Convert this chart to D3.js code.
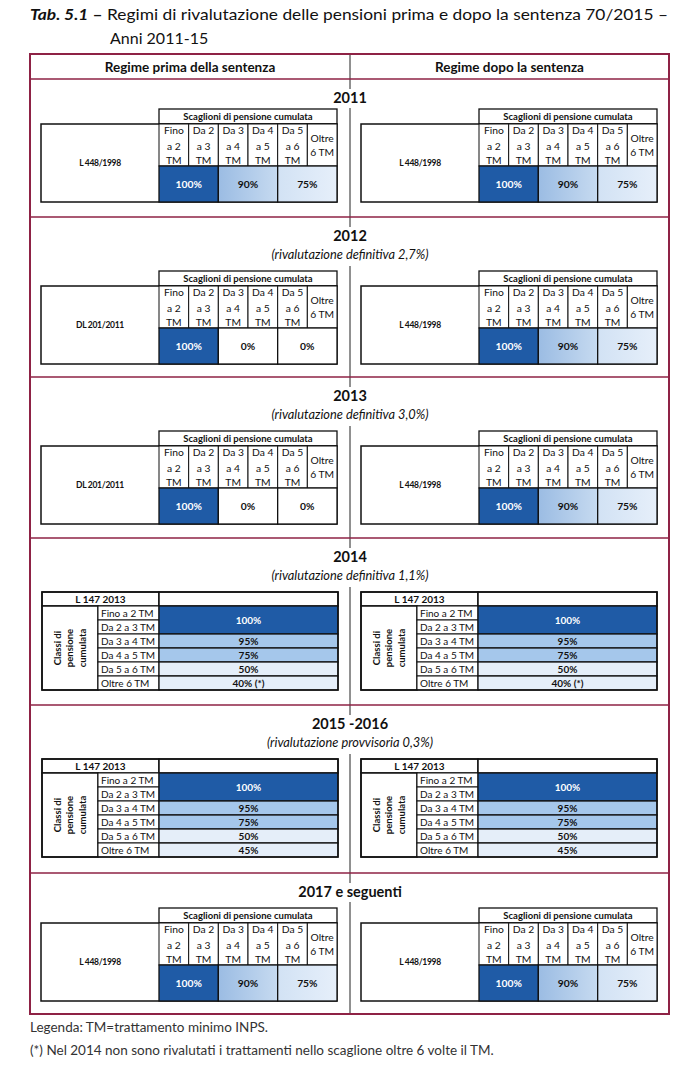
<!DOCTYPE html>
<html>
<head>
<meta charset="utf-8">
<script src="https://cdn.jsdelivr.net/npm/d3@7"></script>
<style>
body{margin:0;background:#fff}
svg{display:block}
text{font-family:Lato,"Open Sans",sans-serif;fill:#111}
</style>
</head>
<body>
<svg id="chart" width="700" height="1079"></svg>
<script>
// ---- dati ----
var sezioni = ["2011","2012","2013","2014","2015 -2016","2017 e seguenti"];
var sottotitoli = ["","(rivalutazione definitiva 2,7%)","(rivalutazione definitiva 3,0%)","(rivalutazione definitiva 1,1%)","(rivalutazione provvisoria 0,3%)",""];
var tipoTabella = ["scaglioni","scaglioni","scaglioni","classi","classi","scaglioni"];
var normaPrima = ["L 448/1998","DL 201/2011","DL 201/2011","L 147 2013","L 147 2013","L 448/1998"];
var normaDopo = ["L 448/1998","L 448/1998","L 448/1998","L 147 2013","L 147 2013","L 448/1998"];
var scaglioni = ["Fino a 2 TM","Da 2 a 3 TM","Da 3 a 4 TM","Da 4 a 5 TM","Da 5 a 6 TM","Oltre 6 TM"];
var intestazioni = [["Fino","a 2","TM"],["Da 2","a 3","TM"],["Da 3","a 4","TM"],["Da 4","a 5","TM"],["Da 5","a 6","TM"],["Oltre","6 TM"]];
var ratePrima = [[100,100,90,90,75,75],[100,100,0,0,0,0],[100,100,0,0,0,0],[100,100,95,75,50,40],[100,100,95,75,50,45],[100,100,90,90,75,75]];
var rateDopo  = [[100,100,90,90,75,75],[100,100,90,90,75,75],[100,100,90,90,75,75],[100,100,95,75,50,40],[100,100,95,75,50,45],[100,100,90,90,75,75]];
var asterisco = ["","","","(*)","",""]; // nota sullo scaglione oltre 6 TM
var colonne = ["Regime prima della sentenza","Regime dopo la sentenza"];
var legenda = ["Legenda: TM=trattamento minimo INPS.","(*) Nel 2014 non sono rivalutati i trattamenti nello scaglione oltre 6 volte il TM."];

// ---- impaginazione ----
var svg = d3.select("#chart"),
    fx0 = 30, fx1 = 669, fy0 = 54, fy1 = 1014, mid = 350, headBottom = 79,
    sezTop = [79,217,377,538,705,873],
    sezBottom = [217,377,538,705,873,1014],
    tabOffset = [30,54,54,54,54,35],
    maroon = "#8e2245",
    scuro = "#1f5ba6"

var defs = svg.append("defs")
function grad(id, c0, c1){
    var g = defs.append("linearGradient").attr("id", id)
    g.append("stop").attr("offset","0%").attr("stop-color",c0)
    g.append("stop").attr("offset","100%").attr("stop-color",c1)
}
grad("gMed","#9bbce3","#c6daf0")
grad("gLight","#d2e2f4","#e6effa")

function riempi(v, i, tipo){
    if (v == 0) return "#fff"
    var gr = Math.floor(i/2)
    if (tipo == "scaglioni") return [scuro,"url(#gMed)","url(#gLight)"][gr]
    return [scuro,"#a5c7eb","#e5eef9"][gr]
}
// celle unite quando due scaglioni della stessa coppia hanno lo stesso valore
function celle(r){
    var out = [], i = 0
    while (i < r.length){
        if (i%2==0 && r[i]==r[i+1]) { out.push({a:i,b:i+1,v:r[i]}); i+=2 }
        else { out.push({a:i,b:i,v:r[i]}); i++ }
    }
    return out
}

// titolo
var t = svg.append("text").attr("x",fx0).attr("y",20).style("font-size","16px")
    .attr("textLength",638).attr("lengthAdjust","spacingAndGlyphs")
t.append("tspan").style("font-weight","bold").style("font-style","italic").text("Tab. 5.1")
t.append("tspan").style("font-weight","bold").text(" \u2013")
t.append("tspan").text(" Regimi di rivalutazione delle pensioni prima e dopo la sentenza 70/2015 \u2013")
svg.append("text").attr("x",110).attr("y",44).style("font-size","16px").text("Anni 2011-15")

// divisorio centrale
svg.append("line").attr("x1",mid).attr("x2",mid).attr("y1",fy0).attr("y2",fy1)
    .attr("stroke","#222").attr("stroke-width",1)

// intestazioni colonne
svg.selectAll(".colhead").data(colonne).enter().append("text")
    .attr("class","colhead")
    .attr("x",(d,i)=> i==0 ? (fx0+mid)/2 : (mid+fx1)/2)
    .attr("y",72).attr("text-anchor","middle")
    .style("font-size","13.5px").style("font-weight","bold").text(d=>d)

// righe di sezione (bordeaux)
svg.selectAll(".sezline").data([headBottom].concat(sezBottom.slice(0,-1))).enter().append("line")
    .attr("x1",fx0).attr("x2",fx1).attr("y1",d=>d).attr("y2",d=>d)
    .attr("stroke",maroon).attr("stroke-width",1.6)

// titoli di sezione con sfondo bianco sopra il divisorio
sezioni.forEach(function(s, k){
    var g = svg.append("g")
    var tt = g.append("text").attr("x",mid).attr("y",sezTop[k]+24).attr("text-anchor","middle")
        .style("font-size","14.5px").style("font-weight","bold").text(s)
    var bb = tt.node().getBBox()
    g.insert("rect","text").attr("x",bb.x-3).attr("y",bb.y).attr("width",bb.width+6).attr("height",bb.height+2).attr("fill","#fff")
    if (sottotitoli[k]) {
        var st = g.append("text").attr("x",mid).attr("y",sezTop[k]+42).attr("text-anchor","middle")
            .style("font-size","12.8px").style("font-style","italic").text(sottotitoli[k])
        var b2 = st.node().getBBox()
        g.insert("rect","text").attr("x",b2.x-3).attr("y",b2.y-2).attr("width",b2.width+6).attr("height",b2.height+6).attr("fill","#fff")
    }
})

function box(g, x, y, w, h, fill, sw){
    return g.append("rect").attr("x",x).attr("y",y).attr("width",w).attr("height",h)
        .attr("fill",fill||"#fff").attr("stroke","#111").attr("stroke-width",sw||1)
}

function tabScaglioni(g, x0, y0, norma, rates){
    var xs = d3.scaleBand().domain(scaglioni).range([x0+118, x0+296])
    box(g, x0+118, y0, 178, 15, "#fff", 1.3)
    g.append("text").attr("x",x0+207).attr("y",y0+11).attr("text-anchor","middle")
        .style("font-size","9.5px").style("font-weight","bold").text("Scaglioni di pensione cumulata")
    box(g, x0, y0+15, 296, 78, "#fff", 1.5)
    g.append("text").attr("x",x0+59).attr("y",y0+15+42).attr("text-anchor","middle")
        .style("font-size","8.5px").style("font-weight","bold").style("letter-spacing","-0.3px").text(norma)
    scaglioni.forEach(function(s, i){
        box(g, xs(s), y0+15, xs.bandwidth(), 42, "#fff", 1)
        var righe = intestazioni[i], off = righe.length==3 ? [10,26,40] : [18,32]
        righe.forEach(function(r, j){
            g.append("text").attr("x",xs(s)+xs.bandwidth()/2).attr("y",y0+15+off[j])
                .attr("text-anchor","middle").style("font-size","10.3px").text(r)
        })
    })
    celle(rates).forEach(function(c){
        var xa = xs(scaglioni[c.a]), xb = xs(scaglioni[c.b]) + xs.bandwidth()
        box(g, xa, y0+57, xb-xa, 36, riempi(c.v, c.a, "scaglioni"), 1.3)
        g.append("text").attr("x",(xa+xb)/2).attr("y",y0+57+21.5).attr("text-anchor","middle")
            .style("font-size","10.3px").style("font-weight","bold")
            .style("fill", c.v==100 ? "#fff" : "#111").text(c.v+"%")
    })
}

function tabClassi(g, x0, y0, norma, rates, nota){
    var ys = d3.scaleBand().domain(scaglioni).range([y0+14, y0+98])
    box(g, x0, y0, 117, 14, "#fff", 1.5)
    box(g, x0+117, y0, 179, 14, "#fff", 1.5)
    g.append("text").attr("x",x0+58.5).attr("y",y0+11).attr("text-anchor","middle")
        .style("font-size","10px").style("font-weight","bold").text(norma)
    box(g, x0, y0+14, 56, 84, "#fff", 1.5)
    var cy = y0+14+42
    ;["Classi di","pensione","cumulata"].forEach(function(r, j){
        g.append("text").attr("transform","translate("+(x0+18.5+j*12.5)+","+cy+") rotate(-90)")
            .attr("text-anchor","middle").style("font-size","9.5px").style("font-weight","bold").text(r)
    })
    scaglioni.forEach(function(s){
        box(g, x0+56, ys(s), 61, ys.bandwidth(), "#fff", 1)
        g.append("text").attr("x",x0+59).attr("y",ys(s)+ys.bandwidth()-3.5)
            .style("font-size","10px").text(s)
    })
    celle(rates).forEach(function(c){
        var ya = ys(scaglioni[c.a]), yb = ys(scaglioni[c.b]) + ys.bandwidth()
        box(g, x0+117, ya, 179, yb-ya, riempi(c.v, c.a, "classi"), 1.3)
        var lab = c.v+"%" + (c.a==5 && nota ? " "+nota : "")
        g.append("text").attr("x",x0+206.5).attr("y",(ya+yb)/2+3.5).attr("text-anchor","middle")
            .style("font-size","10px").style("font-weight","bold")
            .style("fill", c.v==100 ? "#fff" : "#111").text(lab)
    })
    box(g, x0, y0, 296, 98, "none", 1.5)
}

sezioni.forEach(function(s, k){
    var y0 = sezTop[k] + tabOffset[k]
    var gl = svg.append("g"), gr = svg.append("g")
    if (tipoTabella[k] == "scaglioni") {
        tabScaglioni(gl, 41, y0, normaPrima[k], ratePrima[k])
        tabScaglioni(gr, 361, y0, normaDopo[k], rateDopo[k])
    } else {
        tabClassi(gl, 42, y0, normaPrima[k], ratePrima[k], asterisco[k])
        tabClassi(gr, 361, y0, normaDopo[k], rateDopo[k], asterisco[k])
    }
})

// cornice
svg.append("rect").attr("x",fx0).attr("y",fy0).attr("width",fx1-fx0).attr("height",fy1-fy0)
    .attr("fill","none").attr("stroke",maroon).attr("stroke-width",2)

// legenda
svg.selectAll(".leg").data(legenda).enter().append("text")
    .attr("x",fx0).attr("y",(d,i)=>1032+i*23)
    .style("font-size","13.5px").style("fill","#333").text(d=>d)
</script>
</body>
</html>
